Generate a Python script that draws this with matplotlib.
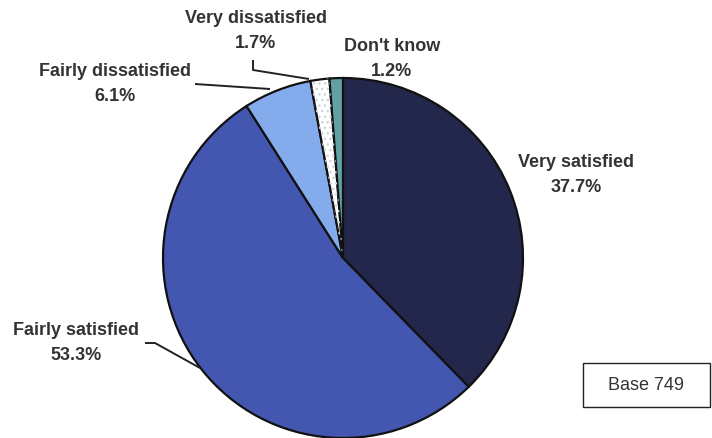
import matplotlib
matplotlib.use("Agg")
import matplotlib.pyplot as plt
from matplotlib.patches import Wedge, Rectangle

plt.rcParams["font.family"] = ["Liberation Sans", "DejaVu Sans"]

categories = ["Very satisfied", "Fairly satisfied", "Fairly dissatisfied",
              "Very dissatisfied", "Don't know"]
values = [37.7, 53.3, 6.1, 1.7, 1.2]
colors = ["#24274c", "#4356b0", "#84aced", "#ffffff", "#62a2a6"]
base_n = 749

W, H = 712, 438
CX, CY, R = 343, 258, 180

# label centres (pixel coords, y down) and leader lines
label_pos = {
    "Very satisfied": (576, 175),
    "Fairly satisfied": (76, 343),
    "Fairly dissatisfied": (115, 84),
    "Very dissatisfied": (256, 31),
    "Don't know": (392, 59),
}
leaders = {
    "Fairly satisfied": [(145, 343), (155, 343), (200, 368)],
    "Fairly dissatisfied": [(195, 84), (270, 89)],
    "Very dissatisfied": [(253, 60), (253, 70), (309, 79)],
}


def fy(y):
    return H - y


fig = plt.figure(figsize=(W / 100, H / 100), dpi=100)
ax = fig.add_axes([0, 0, 1, 1])

wedges, _ = ax.pie(values, colors=colors, startangle=90, counterclock=False,
                   center=(CX, fy(CY)), radius=R, frame=True,
                   wedgeprops=dict(edgecolor="#111111", linewidth=1.6))
ax.set_xlim(0, W)
ax.set_ylim(0, H)
ax.set_aspect("equal")
ax.axis("off")

# light stipple on the very dissatisfied slice
w = wedges[3]
ax.add_patch(Wedge(w.center, w.r, w.theta1, w.theta2, facecolor="none",
                   edgecolor="#c9d5db", linewidth=0, hatch="...",
                   zorder=w.get_zorder() + 0.1))

for cat, val in zip(categories, values):
    x, y = label_pos[cat]
    ax.text(x, fy(y), f"{cat}\n{val:.1f}%", ha="center", va="center",
            fontsize=13, fontweight="bold", color="#333333", linespacing=1.6)

for cat, pts in leaders.items():
    ax.plot([p[0] for p in pts], [fy(p[1]) for p in pts], color="#222222",
            lw=1.4, solid_capstyle="butt", zorder=5)

ax.add_patch(Rectangle((583, fy(407)), 127, 44, facecolor="white",
                       edgecolor="#222222", lw=1.0))
ax.text(646, fy(385), f"Base {base_n}", ha="center", va="center",
        fontsize=13, color="#333333")

fig.savefig("out.png", dpi=100)
